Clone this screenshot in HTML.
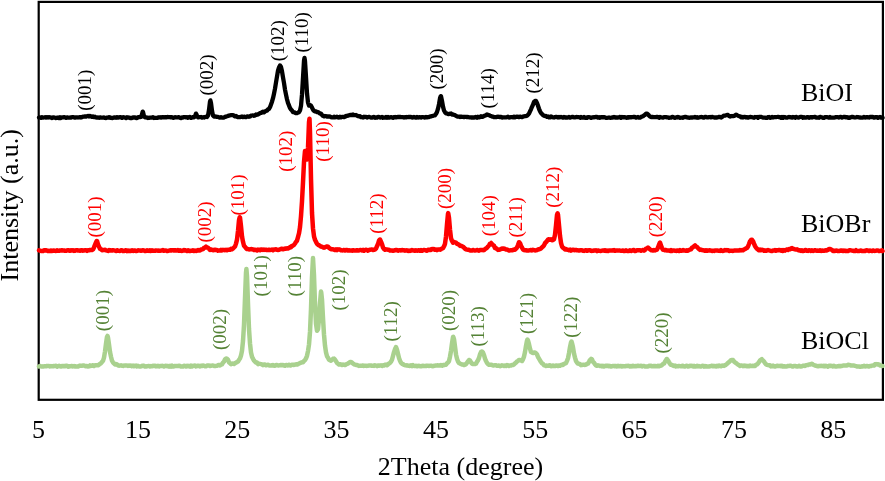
<!DOCTYPE html>
<html><head><meta charset="utf-8"><style>
html,body{margin:0;padding:0;background:#fff;}
svg{display:block;will-change:transform;font-family:"Liberation Serif",serif;}
</style></head><body>
<svg width="885" height="481" viewBox="0 0 885 481">
<rect x="0" y="0" width="885" height="481" fill="#fff"/>
<rect x="38.7" y="1.9" width="844.2" height="397.9" fill="none" stroke="#000" stroke-width="2.2"/>
<polyline points="39.0,366.5 40.0,366.0 41.0,366.3 42.0,366.6 43.0,366.6 44.0,366.3 45.0,366.2 46.0,366.3 47.0,365.9 48.0,365.9 49.0,365.9 50.0,366.4 51.0,366.1 52.0,366.3 53.0,366.1 54.0,366.2 55.0,365.9 56.0,365.8 57.0,366.7 58.0,366.1 59.0,365.8 60.0,366.3 61.0,366.5 62.0,365.9 63.0,366.3 64.0,366.0 65.0,366.2 66.0,365.7 67.0,365.7 68.0,366.7 69.0,366.5 70.0,366.2 71.0,366.2 72.0,365.9 73.0,366.4 74.0,366.1 75.0,366.6 76.0,366.4 77.0,366.4 78.0,366.6 79.0,365.9 80.0,365.6 81.0,365.8 82.0,365.7 83.0,365.6 84.0,365.6 85.0,366.1 86.0,366.3 87.0,365.9 88.0,366.4 89.0,366.3 90.0,365.4 91.0,365.9 92.0,365.6 93.0,365.2 94.0,366.0 95.0,365.2 96.0,365.3 97.0,365.2 98.0,365.3 99.0,364.6 100.0,363.9 101.0,363.3 102.0,361.9 103.0,360.8 104.0,357.6 105.0,351.5 106.0,343.8 107.0,336.9 107.5,335.9 108.0,337.6 109.0,344.6 110.0,352.1 111.0,356.7 112.0,360.7 113.0,362.4 114.0,363.5 115.0,364.5 116.0,364.0 117.0,364.4 118.0,365.3 119.0,365.7 120.0,365.6 121.0,365.3 122.0,365.7 123.0,365.9 124.0,365.4 125.0,365.6 126.0,365.6 127.0,365.5 128.0,365.9 129.0,365.6 130.0,365.7 131.0,365.6 132.0,366.2 133.0,365.5 134.0,366.3 135.0,365.8 136.0,365.6 137.0,366.5 138.0,365.8 139.0,366.5 140.0,366.5 141.0,366.5 142.0,365.8 143.0,366.1 144.0,365.7 145.0,366.6 146.0,366.5 147.0,366.3 148.0,366.1 149.0,366.0 150.0,366.5 151.0,366.1 152.0,366.3 153.0,365.8 154.0,365.9 155.0,365.7 156.0,366.4 157.0,366.2 158.0,365.8 159.0,366.5 160.0,365.9 161.0,366.1 162.0,365.8 163.0,365.9 164.0,366.5 165.0,366.0 166.0,365.8 167.0,366.2 168.0,366.0 169.0,366.6 170.0,365.8 171.0,366.6 172.0,365.7 173.0,366.6 174.0,366.3 175.0,365.9 176.0,366.1 177.0,365.9 178.0,365.9 179.0,365.8 180.0,366.0 181.0,366.6 182.0,366.6 183.0,366.6 184.0,365.7 185.0,365.9 186.0,366.5 187.0,365.7 188.0,366.3 189.0,365.9 190.0,366.6 191.0,365.6 192.0,366.4 193.0,365.9 194.0,365.7 195.0,365.6 196.0,366.4 197.0,366.1 198.0,365.7 199.0,366.0 200.0,366.4 201.0,365.7 202.0,366.1 203.0,365.6 204.0,365.7 205.0,366.2 206.0,366.2 207.0,365.6 208.0,365.5 209.0,365.5 210.0,366.0 211.0,365.8 212.0,365.6 213.0,365.5 214.0,365.9 215.0,365.9 216.0,365.9 217.0,365.7 218.0,365.2 219.0,364.9 220.0,365.4 221.0,364.7 222.0,364.4 223.0,362.6 224.0,361.7 225.0,359.3 226.0,358.6 226.2,358.6 227.0,358.7 228.0,359.8 229.0,362.4 230.0,363.1 231.0,364.1 232.0,363.7 233.0,363.6 234.0,364.0 235.0,363.2 236.0,362.6 237.0,362.2 238.0,361.5 239.0,359.8 240.0,358.5 241.0,355.6 242.0,350.8 243.0,341.1 244.0,324.8 245.0,298.4 246.0,272.7 246.4,268.9 247.0,276.2 248.0,303.9 249.0,329.0 250.0,343.4 251.0,352.4 252.0,356.8 253.0,358.9 254.0,360.6 255.0,361.7 256.0,362.6 257.0,362.6 258.0,364.1 259.0,363.7 260.0,363.9 261.0,364.1 262.0,364.4 263.0,365.1 264.0,364.5 265.0,364.6 266.0,365.3 267.0,364.9 268.0,364.8 269.0,365.4 270.0,365.4 271.0,365.4 272.0,365.6 273.0,365.0 274.0,365.8 275.0,365.7 276.0,365.0 277.0,365.1 278.0,365.4 279.0,365.4 280.0,365.2 281.0,365.0 282.0,365.3 283.0,365.0 284.0,365.5 285.0,365.7 286.0,364.9 287.0,365.3 288.0,365.4 289.0,364.8 290.0,365.4 291.0,365.4 292.0,364.8 293.0,364.7 294.0,365.0 295.0,364.6 296.0,364.3 297.0,364.6 298.0,364.2 299.0,363.5 300.0,363.1 301.0,362.7 302.0,362.3 303.0,362.2 304.0,361.1 305.0,360.0 306.0,358.3 307.0,355.8 308.0,351.1 309.0,344.5 310.0,331.9 311.0,309.2 312.0,277.1 313.0,258.1 314.0,275.5 315.0,304.2 316.0,323.6 317.0,330.8 318.0,329.3 319.0,319.2 320.0,302.9 321.0,291.6 321.2,292.3 322.0,299.5 323.0,318.2 324.0,334.5 325.0,345.7 326.0,352.4 327.0,356.2 328.0,357.7 329.0,359.7 330.0,360.2 331.0,360.7 332.0,359.7 333.0,358.8 334.0,358.6 335.0,359.6 336.0,361.2 337.0,362.9 338.0,363.7 339.0,364.6 340.0,364.2 341.0,364.4 342.0,364.9 343.0,364.4 344.0,364.9 345.0,365.1 346.0,364.5 347.0,363.8 348.0,363.5 349.0,362.9 350.0,362.1 351.0,362.1 352.0,362.6 353.0,363.5 354.0,364.3 355.0,364.6 356.0,364.9 357.0,365.0 358.0,365.5 359.0,365.9 360.0,365.7 361.0,365.7 362.0,365.8 363.0,365.4 364.0,365.9 365.0,365.7 366.0,365.8 367.0,365.9 368.0,365.7 369.0,365.6 370.0,365.5 371.0,365.5 372.0,365.8 373.0,365.7 374.0,365.9 375.0,365.3 376.0,365.6 377.0,366.1 378.0,365.4 379.0,365.7 380.0,365.6 381.0,365.3 382.0,366.0 383.0,365.2 384.0,365.6 385.0,364.8 386.0,364.6 387.0,365.2 388.0,364.4 389.0,363.5 390.0,363.0 391.0,361.7 392.0,359.8 393.0,356.0 394.0,352.1 395.0,349.1 395.8,347.6 396.0,347.1 397.0,349.8 398.0,353.9 399.0,358.0 400.0,360.7 401.0,362.7 402.0,363.8 403.0,364.2 404.0,364.9 405.0,365.2 406.0,365.4 407.0,365.3 408.0,365.7 409.0,365.7 410.0,366.0 411.0,365.3 412.0,366.1 413.0,365.2 414.0,366.0 415.0,365.9 416.0,365.8 417.0,366.3 418.0,365.9 419.0,365.8 420.0,366.2 421.0,366.3 422.0,366.0 423.0,365.8 424.0,365.9 425.0,365.9 426.0,366.1 427.0,365.7 428.0,365.8 429.0,365.9 430.0,365.8 431.0,365.7 432.0,366.1 433.0,366.2 434.0,365.8 435.0,365.7 436.0,365.4 437.0,365.5 438.0,365.3 439.0,365.6 440.0,365.6 441.0,365.0 442.0,365.7 443.0,364.9 444.0,365.2 445.0,364.9 446.0,364.7 447.0,363.3 448.0,362.5 449.0,361.1 450.0,356.7 451.0,350.8 452.0,343.3 453.0,337.0 453.3,336.9 454.0,339.1 455.0,346.6 456.0,354.4 457.0,358.8 458.0,361.5 459.0,363.1 460.0,363.6 461.0,364.0 462.0,364.5 463.0,364.4 464.0,365.1 465.0,364.7 466.0,364.1 467.0,362.7 468.0,361.3 469.0,360.0 469.3,360.1 470.0,360.5 471.0,362.4 472.0,363.8 473.0,364.0 474.0,364.1 475.0,364.0 476.0,363.7 477.0,361.8 478.0,360.2 479.0,358.0 480.0,354.4 481.0,352.0 481.9,351.7 482.0,351.5 483.0,352.6 484.0,355.0 485.0,358.7 486.0,361.0 487.0,362.8 488.0,364.1 489.0,364.7 490.0,364.7 491.0,364.7 492.0,365.0 493.0,365.4 494.0,365.4 495.0,365.2 496.0,365.3 497.0,365.8 498.0,365.8 499.0,365.5 500.0,366.2 501.0,365.8 502.0,365.3 503.0,365.6 504.0,366.0 505.0,365.5 506.0,365.9 507.0,365.1 508.0,365.4 509.0,365.9 510.0,365.5 511.0,365.5 512.0,364.9 513.0,364.9 514.0,364.4 515.0,363.4 516.0,362.7 517.0,361.4 518.0,360.9 518.6,360.2 519.0,360.0 520.0,360.0 521.0,360.4 522.0,361.0 523.0,359.3 524.0,356.6 525.0,352.0 526.0,345.9 527.0,340.7 527.4,339.6 528.0,340.5 529.0,344.2 530.0,348.7 531.0,352.1 532.0,352.6 533.0,353.0 534.0,352.4 535.0,352.4 536.0,353.2 537.0,354.4 538.0,357.0 539.0,358.6 540.0,360.3 541.0,362.0 542.0,363.3 543.0,363.9 544.0,365.3 545.0,365.4 546.0,366.0 547.0,365.6 548.0,365.8 549.0,365.5 550.0,365.3 551.0,366.2 552.0,366.1 553.0,365.5 554.0,366.1 555.0,366.0 556.0,365.4 557.0,365.7 558.0,366.0 559.0,365.4 560.0,365.7 561.0,364.9 562.0,364.8 563.0,364.9 564.0,364.0 565.0,363.5 566.0,363.1 567.0,360.9 568.0,358.3 569.0,353.2 570.0,347.2 571.0,342.5 571.5,341.5 572.0,343.1 573.0,347.3 574.0,353.5 575.0,357.6 576.0,361.0 577.0,362.6 578.0,363.6 579.0,363.8 580.0,364.2 581.0,365.2 582.0,364.9 583.0,364.8 584.0,364.8 585.0,364.9 586.0,364.6 587.0,363.9 588.0,363.6 589.0,361.8 590.0,359.9 591.0,359.4 591.2,358.8 592.0,359.5 593.0,361.8 594.0,362.7 595.0,364.3 596.0,365.4 597.0,365.8 598.0,365.3 599.0,365.6 600.0,366.1 601.0,365.8 602.0,366.4 603.0,365.7 604.0,366.5 605.0,366.0 606.0,365.8 607.0,366.0 608.0,365.7 609.0,366.3 610.0,365.9 611.0,366.5 612.0,366.2 613.0,366.0 614.0,365.9 615.0,366.3 616.0,365.9 617.0,366.5 618.0,365.8 619.0,366.2 620.0,366.2 621.0,365.9 622.0,366.5 623.0,366.1 624.0,366.3 625.0,366.3 626.0,366.0 627.0,366.1 628.0,365.8 629.0,365.9 630.0,366.5 631.0,366.0 632.0,366.4 633.0,365.8 634.0,366.3 635.0,366.1 636.0,366.2 637.0,366.0 638.0,365.8 639.0,366.0 640.0,365.9 641.0,365.8 642.0,366.4 643.0,366.0 644.0,366.1 645.0,366.6 646.0,366.5 647.0,366.6 648.0,366.5 649.0,365.8 650.0,365.9 651.0,365.7 652.0,366.3 653.0,366.3 654.0,366.0 655.0,366.0 656.0,366.2 657.0,366.2 658.0,365.7 659.0,366.3 660.0,365.7 661.0,365.7 662.0,364.9 663.0,364.1 664.0,363.6 665.0,361.7 666.0,360.1 666.7,359.0 667.0,359.1 668.0,360.5 669.0,362.2 670.0,363.8 671.0,364.8 672.0,365.0 673.0,365.6 674.0,366.0 675.0,365.6 676.0,366.4 677.0,366.1 678.0,366.3 679.0,365.9 680.0,366.1 681.0,366.3 682.0,366.0 683.0,365.7 684.0,366.5 685.0,366.5 686.0,366.0 687.0,365.7 688.0,366.5 689.0,366.3 690.0,365.7 691.0,365.9 692.0,365.8 693.0,366.5 694.0,365.9 695.0,366.6 696.0,366.5 697.0,365.8 698.0,366.4 699.0,366.1 700.0,366.4 701.0,366.5 702.0,366.0 703.0,365.8 704.0,366.6 705.0,366.1 706.0,366.6 707.0,366.4 708.0,366.4 709.0,366.5 710.0,366.3 711.0,366.1 712.0,365.7 713.0,366.3 714.0,366.0 715.0,366.1 716.0,366.5 717.0,365.7 718.0,366.3 719.0,365.5 720.0,366.1 721.0,366.2 722.0,365.6 723.0,365.7 724.0,365.9 725.0,365.3 726.0,364.7 727.0,363.8 728.0,362.8 729.0,362.1 730.0,361.2 731.0,360.2 732.0,360.0 733.0,360.1 734.0,361.5 735.0,362.4 736.0,362.9 737.0,363.8 738.0,364.7 739.0,365.1 740.0,365.9 741.0,365.5 742.0,365.5 743.0,366.2 744.0,365.5 745.0,366.0 746.0,365.8 747.0,366.3 748.0,366.0 749.0,366.2 750.0,365.6 751.0,366.1 752.0,366.0 753.0,365.8 754.0,366.0 755.0,365.9 756.0,364.8 757.0,364.4 758.0,363.6 759.0,362.1 760.0,360.5 761.0,359.6 761.7,359.2 762.0,359.8 763.0,360.4 764.0,361.5 765.0,363.1 766.0,364.3 767.0,364.9 768.0,365.1 769.0,365.3 770.0,365.3 771.0,366.4 772.0,366.2 773.0,365.6 774.0,366.3 775.0,366.6 776.0,366.2 777.0,365.7 778.0,366.1 779.0,366.1 780.0,365.8 781.0,366.2 782.0,365.7 783.0,366.6 784.0,366.3 785.0,366.3 786.0,366.6 787.0,366.3 788.0,365.9 789.0,365.9 790.0,365.8 791.0,365.7 792.0,366.5 793.0,366.5 794.0,366.0 795.0,365.9 796.0,366.3 797.0,366.5 798.0,366.6 799.0,365.8 800.0,366.4 801.0,366.4 802.0,366.3 803.0,365.8 804.0,365.6 805.0,366.0 806.0,365.3 807.0,365.1 808.0,365.0 809.0,364.4 810.0,364.6 811.0,363.9 812.0,363.8 813.0,364.6 814.0,365.0 815.0,365.5 816.0,365.7 817.0,366.1 818.0,366.3 819.0,366.0 820.0,366.1 821.0,365.8 822.0,365.9 823.0,366.2 824.0,365.7 825.0,366.4 826.0,365.8 827.0,366.1 828.0,366.7 829.0,365.8 830.0,365.7 831.0,366.1 832.0,365.9 833.0,366.4 834.0,365.7 835.0,366.5 836.0,366.5 837.0,366.5 838.0,366.1 839.0,365.9 840.0,366.3 841.0,366.0 842.0,365.9 843.0,365.6 844.0,365.6 845.0,365.6 846.0,365.6 847.0,365.5 848.0,364.7 849.0,364.9 850.0,365.2 851.0,365.5 852.0,365.5 853.0,365.5 854.0,365.5 855.0,365.9 856.0,366.1 857.0,366.6 858.0,366.6 859.0,366.5 860.0,366.7 861.0,366.7 862.0,366.3 863.0,366.5 864.0,365.8 865.0,366.4 866.0,366.3 867.0,366.0 868.0,366.2 869.0,366.6 870.0,366.1 871.0,366.1 872.0,365.6 873.0,365.4 874.0,365.6 875.0,364.3 876.0,364.1 877.0,364.4 878.0,364.3 879.0,364.4 880.0,365.4 881.0,365.5 882.0,365.9 882.5,365.9" fill="none" stroke="#a9d18e" stroke-width="4.5" stroke-linejoin="round" stroke-linecap="round"/>
<polyline points="39.0,250.3 40.0,250.6 41.0,251.0 42.0,251.0 43.0,251.1 44.0,250.2 45.0,250.5 46.0,250.3 47.0,250.4 48.0,251.1 49.0,250.8 50.0,251.1 51.0,250.5 52.0,251.0 53.0,250.6 54.0,250.4 55.0,250.9 56.0,251.1 57.0,250.3 58.0,250.8 59.0,250.8 60.0,250.4 61.0,250.5 62.0,250.3 63.0,250.4 64.0,250.4 65.0,250.8 66.0,250.8 67.0,250.4 68.0,250.2 69.0,250.5 70.0,250.8 71.0,250.3 72.0,250.4 73.0,250.3 74.0,250.9 75.0,250.7 76.0,250.2 77.0,250.2 78.0,250.5 79.0,250.6 80.0,250.7 81.0,250.2 82.0,250.2 83.0,250.7 84.0,250.4 85.0,250.3 86.0,250.3 87.0,250.9 88.0,250.2 89.0,250.3 90.0,250.0 91.0,249.9 92.0,250.0 93.0,249.4 94.0,247.4 95.0,244.8 96.0,242.4 96.7,240.9 97.0,240.9 98.0,244.3 99.0,246.6 100.0,248.8 101.0,249.3 102.0,250.2 103.0,250.0 104.0,249.9 105.0,249.8 106.0,250.4 107.0,250.6 108.0,250.9 109.0,250.1 110.0,250.6 111.0,250.4 112.0,250.6 113.0,250.2 114.0,250.4 115.0,250.6 116.0,251.0 117.0,250.2 118.0,250.6 119.0,250.9 120.0,251.1 121.0,250.3 122.0,250.2 123.0,251.1 124.0,251.1 125.0,250.6 126.0,250.2 127.0,251.1 128.0,250.5 129.0,251.0 130.0,250.8 131.0,251.0 132.0,250.3 133.0,250.9 134.0,250.4 135.0,250.5 136.0,251.0 137.0,251.0 138.0,250.3 139.0,250.4 140.0,250.5 141.0,250.7 142.0,250.5 143.0,250.3 144.0,250.4 145.0,250.9 146.0,251.0 147.0,250.2 148.0,250.7 149.0,250.9 150.0,250.2 151.0,251.0 152.0,250.3 153.0,250.7 154.0,250.7 155.0,250.8 156.0,250.4 157.0,250.6 158.0,250.7 159.0,250.6 160.0,250.8 161.0,250.6 162.0,250.6 163.0,250.1 164.0,250.7 165.0,250.6 166.0,250.4 167.0,250.9 168.0,250.9 169.0,250.6 170.0,250.3 171.0,250.6 172.0,250.2 173.0,250.2 174.0,250.5 175.0,250.2 176.0,250.5 177.0,250.6 178.0,250.1 179.0,250.7 180.0,250.2 181.0,250.8 182.0,250.9 183.0,250.6 184.0,250.1 185.0,250.6 186.0,250.4 187.0,251.0 188.0,250.2 189.0,250.9 190.0,251.0 191.0,250.8 192.0,250.8 193.0,250.2 194.0,251.0 195.0,250.5 196.0,250.9 197.0,250.8 198.0,250.0 199.0,250.6 200.0,250.6 201.0,249.5 202.0,249.4 203.0,249.1 204.0,247.7 205.0,247.7 206.0,246.7 207.0,247.6 208.0,247.7 209.0,248.8 210.0,249.9 211.0,249.5 212.0,249.8 213.0,250.2 214.0,250.0 215.0,249.8 216.0,250.0 217.0,249.9 218.0,250.7 219.0,250.4 220.0,250.6 221.0,249.9 222.0,250.5 223.0,249.8 224.0,250.1 225.0,250.2 226.0,249.8 227.0,250.3 228.0,249.8 229.0,249.7 230.0,249.8 231.0,248.8 232.0,249.3 233.0,248.5 234.0,247.4 235.0,246.6 236.0,243.6 237.0,239.6 238.0,231.0 239.0,220.3 239.7,217.3 240.0,217.6 241.0,226.3 242.0,236.5 243.0,241.8 244.0,245.7 245.0,246.8 246.0,248.1 247.0,249.1 248.0,249.1 249.0,249.4 250.0,249.3 251.0,249.1 252.0,249.2 253.0,249.4 254.0,250.0 255.0,249.8 256.0,250.0 257.0,250.4 258.0,249.6 259.0,249.8 260.0,250.2 261.0,249.6 262.0,249.5 263.0,249.9 264.0,249.6 265.0,249.9 266.0,249.7 267.0,250.1 268.0,250.1 269.0,249.7 270.0,250.1 271.0,249.9 272.0,249.5 273.0,250.3 274.0,249.5 275.0,249.4 276.0,249.3 277.0,249.8 278.0,249.9 279.0,249.8 280.0,249.3 281.0,249.0 282.0,248.7 283.0,249.2 284.0,249.0 285.0,248.6 286.0,248.7 287.0,248.3 288.0,248.5 289.0,248.0 290.0,247.1 291.0,247.3 292.0,245.9 293.0,245.7 294.0,244.8 295.0,243.5 296.0,241.9 297.0,240.7 298.0,237.1 299.0,233.3 300.0,227.1 301.0,216.1 302.0,201.4 303.0,182.3 304.0,162.0 305.0,151.0 306.0,154.8 307.0,159.5 308.0,147.9 309.0,122.0 309.5,118.7 310.0,132.3 311.0,178.7 312.0,213.0 313.0,228.5 314.0,236.3 315.0,239.8 316.0,241.9 317.0,243.8 318.0,244.7 319.0,245.3 320.0,245.9 321.0,246.6 322.0,246.8 323.0,247.3 324.0,247.7 325.0,247.3 326.0,246.8 327.0,246.4 328.0,246.6 329.0,247.9 330.0,248.5 331.0,249.3 332.0,249.3 333.0,249.2 334.0,249.7 335.0,250.1 336.0,249.4 337.0,250.1 338.0,249.3 339.0,249.6 340.0,249.6 341.0,250.2 342.0,250.4 343.0,250.3 344.0,249.9 345.0,250.5 346.0,249.9 347.0,249.9 348.0,250.6 349.0,250.3 350.0,250.4 351.0,250.4 352.0,250.7 353.0,250.2 354.0,250.6 355.0,250.5 356.0,250.6 357.0,250.2 358.0,250.5 359.0,250.4 360.0,250.1 361.0,250.0 362.0,250.4 363.0,249.9 364.0,250.7 365.0,249.9 366.0,249.8 367.0,249.9 368.0,250.7 369.0,250.0 370.0,249.8 371.0,249.6 372.0,249.5 373.0,250.0 374.0,249.8 375.0,249.4 376.0,248.6 377.0,246.2 378.0,244.0 379.0,240.5 379.9,239.5 380.0,239.5 381.0,241.7 382.0,244.1 383.0,247.5 384.0,249.0 385.0,249.8 386.0,249.3 387.0,249.6 388.0,249.7 389.0,249.7 390.0,250.6 391.0,250.6 392.0,250.5 393.0,250.7 394.0,250.5 395.0,250.2 396.0,250.0 397.0,250.0 398.0,250.7 399.0,250.2 400.0,250.3 401.0,250.4 402.0,250.0 403.0,250.2 404.0,250.3 405.0,250.7 406.0,250.4 407.0,250.3 408.0,251.0 409.0,250.5 410.0,250.9 411.0,250.6 412.0,250.0 413.0,250.4 414.0,250.4 415.0,250.8 416.0,250.3 417.0,250.7 418.0,250.5 419.0,250.2 420.0,250.8 421.0,250.1 422.0,250.8 423.0,250.1 424.0,249.9 425.0,250.1 426.0,250.6 427.0,250.8 428.0,249.7 429.0,250.0 430.0,249.8 431.0,249.9 432.0,249.0 433.0,249.2 434.0,249.1 435.0,249.8 436.0,249.4 437.0,250.1 438.0,249.5 439.0,249.4 440.0,249.7 441.0,249.2 442.0,248.4 443.0,248.3 444.0,246.3 445.0,243.8 446.0,236.5 447.0,224.5 448.0,213.8 448.2,213.1 449.0,217.9 450.0,229.7 451.0,238.2 452.0,240.9 453.0,242.7 454.0,242.0 455.0,242.3 456.0,242.6 457.0,243.8 458.0,244.1 459.0,244.7 460.0,245.9 461.0,245.7 462.0,246.2 463.0,246.7 464.0,247.7 465.0,248.7 466.0,249.3 467.0,249.6 468.0,249.8 469.0,249.8 470.0,250.6 471.0,250.5 472.0,250.6 473.0,250.0 474.0,250.3 475.0,250.6 476.0,250.4 477.0,249.9 478.0,250.3 479.0,250.7 480.0,250.0 481.0,249.9 482.0,249.9 483.0,250.2 484.0,250.1 485.0,249.1 486.0,248.5 487.0,247.7 488.0,246.6 489.0,245.4 490.0,243.7 491.0,243.2 491.2,243.0 492.0,244.1 493.0,245.0 494.0,245.8 495.0,248.0 496.0,248.1 497.0,249.0 498.0,249.9 499.0,249.7 500.0,249.5 501.0,249.0 502.0,248.5 503.0,248.8 504.0,248.5 505.0,248.9 506.0,249.4 507.0,249.4 508.0,249.9 509.0,250.4 510.0,250.4 511.0,250.2 512.0,250.3 513.0,250.0 514.0,249.5 515.0,249.7 516.0,248.7 517.0,247.5 518.0,245.0 519.0,242.2 519.3,242.2 520.0,243.2 521.0,245.7 522.0,247.7 523.0,249.4 524.0,250.1 525.0,250.2 526.0,250.3 527.0,250.5 528.0,250.4 529.0,250.4 530.0,250.2 531.0,250.0 532.0,250.4 533.0,249.8 534.0,250.1 535.0,250.4 536.0,250.3 537.0,250.1 538.0,249.5 539.0,249.3 540.0,248.9 541.0,248.4 542.0,247.4 543.0,246.5 544.0,245.4 545.0,243.2 546.0,242.2 547.0,241.0 548.0,239.6 549.0,239.2 550.0,239.7 551.0,239.2 552.0,240.2 553.0,240.0 554.0,239.2 555.0,234.7 556.0,225.5 557.0,215.0 557.6,213.3 558.0,214.7 559.0,225.3 560.0,235.9 561.0,242.9 562.0,246.5 563.0,247.7 564.0,248.4 565.0,249.4 566.0,249.0 567.0,249.8 568.0,249.7 569.0,250.2 570.0,249.6 571.0,250.6 572.0,250.0 573.0,249.8 574.0,250.0 575.0,250.2 576.0,249.9 577.0,250.3 578.0,250.3 579.0,250.6 580.0,250.3 581.0,250.2 582.0,250.2 583.0,250.7 584.0,250.9 585.0,250.5 586.0,250.2 587.0,250.8 588.0,250.4 589.0,250.3 590.0,250.2 591.0,250.8 592.0,250.9 593.0,250.7 594.0,250.5 595.0,250.6 596.0,250.3 597.0,251.1 598.0,250.4 599.0,250.7 600.0,250.9 601.0,250.9 602.0,250.6 603.0,250.4 604.0,250.7 605.0,250.2 606.0,250.9 607.0,250.5 608.0,251.0 609.0,250.4 610.0,250.5 611.0,250.4 612.0,250.6 613.0,250.3 614.0,250.1 615.0,250.8 616.0,250.4 617.0,250.4 618.0,250.4 619.0,250.6 620.0,250.6 621.0,250.8 622.0,250.8 623.0,250.5 624.0,251.1 625.0,251.0 626.0,250.2 627.0,251.0 628.0,251.0 629.0,250.9 630.0,250.3 631.0,251.0 632.0,250.7 633.0,250.1 634.0,250.1 635.0,251.1 636.0,250.8 637.0,250.3 638.0,250.2 639.0,250.2 640.0,250.3 641.0,250.8 642.0,250.3 643.0,250.0 644.0,250.6 645.0,250.0 646.0,248.6 647.0,248.4 648.0,247.6 649.0,248.4 650.0,249.3 651.0,250.2 652.0,250.4 653.0,250.6 654.0,250.0 655.0,250.4 656.0,250.0 657.0,249.6 658.0,247.5 659.0,244.7 659.8,242.8 660.0,242.6 661.0,245.4 662.0,248.1 663.0,249.7 664.0,249.7 665.0,250.3 666.0,250.0 667.0,250.5 668.0,250.5 669.0,250.6 670.0,250.9 671.0,250.1 672.0,250.9 673.0,250.5 674.0,250.6 675.0,250.7 676.0,250.9 677.0,250.4 678.0,250.5 679.0,251.0 680.0,250.1 681.0,250.7 682.0,250.7 683.0,250.0 684.0,250.6 685.0,250.6 686.0,250.8 687.0,250.2 688.0,250.7 689.0,250.0 690.0,249.6 691.0,249.4 692.0,247.7 693.0,247.3 694.0,246.2 695.0,245.4 696.0,246.4 697.0,246.9 698.0,248.1 699.0,249.0 700.0,249.9 701.0,249.7 702.0,250.1 703.0,250.2 704.0,250.4 705.0,250.8 706.0,250.3 707.0,250.8 708.0,250.4 709.0,250.5 710.0,250.3 711.0,250.6 712.0,251.0 713.0,250.7 714.0,250.9 715.0,250.4 716.0,250.4 717.0,250.4 718.0,250.7 719.0,250.7 720.0,250.9 721.0,250.1 722.0,250.8 723.0,251.0 724.0,250.6 725.0,250.1 726.0,250.4 727.0,250.1 728.0,250.3 729.0,251.0 730.0,250.7 731.0,250.7 732.0,250.8 733.0,250.9 734.0,250.6 735.0,250.6 736.0,250.6 737.0,250.6 738.0,250.5 739.0,250.5 740.0,250.0 741.0,250.4 742.0,250.1 743.0,250.3 744.0,249.4 745.0,249.1 746.0,248.4 747.0,248.0 748.0,246.5 749.0,244.0 750.0,241.3 751.0,240.0 751.5,239.7 752.0,239.7 753.0,241.2 754.0,243.7 755.0,246.0 756.0,247.6 757.0,248.8 758.0,249.6 759.0,250.3 760.0,249.6 761.0,250.2 762.0,249.8 763.0,249.9 764.0,250.7 765.0,250.5 766.0,250.8 767.0,250.4 768.0,250.0 769.0,250.4 770.0,250.6 771.0,251.0 772.0,251.0 773.0,250.5 774.0,250.5 775.0,250.1 776.0,250.7 777.0,250.3 778.0,250.2 779.0,250.0 780.0,250.0 781.0,250.7 782.0,250.1 783.0,250.9 784.0,250.0 785.0,250.7 786.0,249.8 787.0,249.5 788.0,249.9 789.0,249.1 790.0,249.3 791.0,248.4 792.0,248.1 793.0,248.8 794.0,248.9 795.0,249.4 796.0,249.6 797.0,249.3 798.0,250.1 799.0,250.4 800.0,250.3 801.0,250.9 802.0,250.2 803.0,251.0 804.0,250.8 805.0,250.1 806.0,250.1 807.0,250.7 808.0,250.9 809.0,250.2 810.0,250.4 811.0,250.9 812.0,250.3 813.0,251.0 814.0,250.6 815.0,250.2 816.0,250.5 817.0,250.7 818.0,250.6 819.0,250.8 820.0,250.3 821.0,250.9 822.0,250.5 823.0,250.7 824.0,250.7 825.0,250.5 826.0,250.3 827.0,250.4 828.0,249.8 829.0,248.9 830.0,248.9 831.0,249.5 832.0,249.9 833.0,251.0 834.0,250.8 835.0,250.9 836.0,250.5 837.0,250.7 838.0,251.1 839.0,251.0 840.0,250.8 841.0,250.5 842.0,250.6 843.0,251.1 844.0,250.5 845.0,250.9 846.0,250.8 847.0,251.1 848.0,251.0 849.0,250.5 850.0,250.2 851.0,250.4 852.0,250.6 853.0,250.8 854.0,251.0 855.0,251.1 856.0,250.2 857.0,251.0 858.0,251.0 859.0,251.0 860.0,250.8 861.0,250.5 862.0,251.0 863.0,251.0 864.0,250.9 865.0,251.1 866.0,250.5 867.0,250.3 868.0,250.7 869.0,251.0 870.0,250.4 871.0,250.9 872.0,251.1 873.0,250.4 874.0,250.8 875.0,250.9 876.0,250.7 877.0,250.4 878.0,250.4 879.0,250.9 880.0,251.0 881.0,250.6 882.0,250.3 882.5,251.0" fill="none" stroke="#ff0000" stroke-width="4.5" stroke-linejoin="round" stroke-linecap="round"/>
<polyline points="39.0,117.5 40.0,117.3 41.0,117.8 42.0,117.2 43.0,117.7 44.0,117.5 45.0,117.2 46.0,117.7 47.0,117.2 48.0,117.6 49.0,117.2 50.0,117.3 51.0,117.6 52.0,118.0 53.0,117.3 54.0,117.4 55.0,117.8 56.0,118.1 57.0,117.7 58.0,117.5 59.0,118.1 60.0,117.2 61.0,118.0 62.0,117.4 63.0,117.3 64.0,117.2 65.0,117.4 66.0,117.9 67.0,117.3 68.0,117.7 69.0,117.7 70.0,117.5 71.0,117.6 72.0,117.1 73.0,117.1 74.0,117.3 75.0,117.7 76.0,117.4 77.0,117.3 78.0,117.5 79.0,117.3 80.0,117.1 81.0,117.5 82.0,117.2 83.0,116.6 84.0,116.7 85.0,116.4 86.0,116.6 87.0,116.3 88.0,115.8 89.0,116.5 90.0,115.8 91.0,116.3 92.0,116.9 93.0,116.5 94.0,117.0 95.0,116.7 96.0,117.4 97.0,117.6 98.0,117.5 99.0,117.8 100.0,117.3 101.0,117.7 102.0,117.6 103.0,117.6 104.0,117.5 105.0,117.9 106.0,118.0 107.0,117.6 108.0,117.7 109.0,117.1 110.0,117.8 111.0,117.7 112.0,118.1 113.0,117.9 114.0,117.4 115.0,117.5 116.0,117.8 117.0,117.1 118.0,117.6 119.0,117.3 120.0,117.2 121.0,117.2 122.0,117.9 123.0,117.2 124.0,117.3 125.0,117.5 126.0,118.0 127.0,117.2 128.0,117.5 129.0,117.6 130.0,118.0 131.0,117.9 132.0,118.0 133.0,117.4 134.0,117.5 135.0,117.4 136.0,118.0 137.0,118.0 138.0,117.2 139.0,117.2 140.0,117.2 141.0,117.0 142.0,114.3 142.7,111.6 143.0,111.9 144.0,116.2 145.0,117.4 146.0,117.4 147.0,117.6 148.0,118.0 149.0,117.8 150.0,117.6 151.0,117.7 152.0,117.7 153.0,117.1 154.0,118.0 155.0,117.8 156.0,117.9 157.0,117.9 158.0,117.5 159.0,117.5 160.0,117.2 161.0,117.7 162.0,117.1 163.0,117.1 164.0,117.3 165.0,117.2 166.0,117.4 167.0,117.1 168.0,117.0 169.0,117.2 170.0,117.1 171.0,117.4 172.0,117.1 173.0,117.9 174.0,117.6 175.0,117.2 176.0,117.3 177.0,117.4 178.0,117.4 179.0,117.1 180.0,117.9 181.0,118.0 182.0,117.5 183.0,117.5 184.0,117.1 185.0,117.1 186.0,117.3 187.0,117.2 188.0,117.8 189.0,117.1 190.0,117.0 191.0,117.9 192.0,117.5 193.0,117.1 194.0,117.4 195.0,116.2 196.0,113.6 196.2,113.9 197.0,115.9 198.0,117.4 199.0,117.1 200.0,117.2 201.0,117.0 202.0,117.6 203.0,117.3 204.0,117.5 205.0,117.0 206.0,116.7 207.0,117.0 208.0,115.6 209.0,109.9 210.0,101.6 210.4,100.4 211.0,102.9 212.0,110.8 213.0,115.6 214.0,116.6 215.0,116.5 216.0,116.6 217.0,116.9 218.0,116.9 219.0,117.4 220.0,117.6 221.0,117.1 222.0,117.6 223.0,117.6 224.0,117.5 225.0,116.9 226.0,116.6 227.0,116.3 228.0,116.0 229.0,115.5 230.0,115.3 231.0,115.2 232.0,115.1 233.0,115.1 234.0,115.7 235.0,116.4 236.0,116.0 237.0,116.8 238.0,117.2 239.0,117.1 240.0,117.1 241.0,116.8 242.0,116.5 243.0,117.1 244.0,116.6 245.0,117.0 246.0,117.1 247.0,116.5 248.0,116.4 249.0,116.8 250.0,116.5 251.0,115.7 252.0,115.5 253.0,115.3 254.0,115.8 255.0,115.4 256.0,114.4 257.0,114.8 258.0,114.5 259.0,113.8 260.0,113.2 261.0,113.0 262.0,112.2 263.0,111.7 264.0,112.3 265.0,111.5 266.0,110.9 267.0,110.7 268.0,109.4 269.0,108.8 270.0,107.2 271.0,104.5 272.0,101.7 273.0,98.2 274.0,93.7 275.0,88.7 276.0,82.5 277.0,76.5 278.0,70.6 279.0,67.4 280.0,65.4 281.0,67.0 282.0,71.3 283.0,77.3 284.0,83.0 285.0,89.6 286.0,94.6 287.0,99.2 288.0,103.0 289.0,105.4 290.0,108.1 291.0,109.5 292.0,110.5 293.0,112.2 294.0,112.1 295.0,112.8 296.0,113.2 297.0,113.1 298.0,112.6 299.0,112.2 300.0,110.5 301.0,105.9 302.0,94.5 303.0,77.6 304.0,60.7 304.5,57.9 305.0,61.1 306.0,76.9 307.0,93.3 308.0,102.6 309.0,105.5 310.0,105.0 310.5,105.3 311.0,105.7 312.0,107.6 313.0,109.7 314.0,110.8 315.0,111.4 316.0,111.5 317.0,112.0 318.0,112.1 319.0,112.8 320.0,113.6 321.0,113.7 322.0,114.9 323.0,115.9 324.0,116.4 325.0,116.0 326.0,116.2 327.0,116.7 328.0,116.4 329.0,116.6 330.0,116.5 331.0,117.1 332.0,117.3 333.0,117.4 334.0,116.7 335.0,117.3 336.0,117.2 337.0,116.7 338.0,117.4 339.0,117.5 340.0,116.7 341.0,117.4 342.0,116.8 343.0,116.8 344.0,117.1 345.0,116.8 346.0,115.9 347.0,115.9 348.0,115.7 349.0,115.3 350.0,115.0 351.0,114.9 352.0,115.2 353.0,114.5 354.0,115.2 355.0,115.2 356.0,115.0 357.0,115.6 358.0,116.2 359.0,116.3 360.0,116.1 361.0,117.2 362.0,117.2 363.0,117.5 364.0,116.7 365.0,117.0 366.0,116.8 367.0,117.5 368.0,117.1 369.0,116.9 370.0,117.2 371.0,117.7 372.0,117.7 373.0,117.1 374.0,117.0 375.0,117.8 376.0,117.4 377.0,117.6 378.0,117.0 379.0,116.9 380.0,117.6 381.0,117.3 382.0,116.9 383.0,117.8 384.0,117.5 385.0,117.7 386.0,117.0 387.0,117.7 388.0,117.0 389.0,117.7 390.0,117.3 391.0,117.2 392.0,117.4 393.0,117.8 394.0,117.2 395.0,117.0 396.0,117.4 397.0,117.1 398.0,117.0 399.0,117.0 400.0,116.9 401.0,117.1 402.0,117.2 403.0,117.2 404.0,117.6 405.0,117.2 406.0,117.4 407.0,117.0 408.0,117.2 409.0,116.9 410.0,117.1 411.0,116.9 412.0,117.6 413.0,117.4 414.0,117.0 415.0,117.3 416.0,117.7 417.0,116.9 418.0,117.6 419.0,117.2 420.0,117.2 421.0,117.6 422.0,117.1 423.0,117.2 424.0,117.3 425.0,117.6 426.0,116.9 427.0,117.3 428.0,117.1 429.0,117.0 430.0,116.6 431.0,116.4 432.0,116.0 433.0,115.8 434.0,115.3 435.0,115.4 436.0,113.9 437.0,112.0 438.0,108.7 439.0,104.2 440.0,98.3 440.7,96.2 441.0,96.1 442.0,100.9 443.0,106.6 444.0,110.5 445.0,112.2 446.0,113.3 447.0,113.4 448.0,114.1 449.0,114.1 450.0,113.7 451.0,113.5 452.0,114.6 453.0,114.4 454.0,114.9 455.0,115.1 456.0,115.9 457.0,116.4 458.0,116.7 459.0,116.6 460.0,117.0 461.0,116.6 462.0,116.9 463.0,116.8 464.0,117.1 465.0,116.8 466.0,116.8 467.0,117.1 468.0,117.0 469.0,117.3 470.0,117.3 471.0,117.5 472.0,117.4 473.0,117.5 474.0,117.6 475.0,117.1 476.0,117.0 477.0,117.7 478.0,116.8 479.0,117.3 480.0,117.1 481.0,116.3 482.0,116.9 483.0,116.6 484.0,116.0 485.0,115.6 486.0,115.3 487.0,114.4 488.0,114.8 489.0,115.0 490.0,115.7 491.0,116.1 492.0,116.5 493.0,116.6 494.0,117.2 495.0,117.1 496.0,117.2 497.0,116.8 498.0,116.7 499.0,116.8 500.0,117.1 501.0,116.8 502.0,117.6 503.0,117.3 504.0,117.4 505.0,117.4 506.0,117.4 507.0,117.2 508.0,116.7 509.0,117.5 510.0,117.4 511.0,117.2 512.0,117.2 513.0,117.3 514.0,116.7 515.0,117.3 516.0,116.8 517.0,116.6 518.0,116.8 519.0,117.2 520.0,116.6 521.0,117.0 522.0,117.2 523.0,116.6 524.0,116.3 525.0,116.2 526.0,116.1 527.0,115.7 528.0,114.7 529.0,113.6 530.0,111.4 531.0,109.3 532.0,106.8 533.0,104.6 534.0,101.9 535.0,101.0 536.0,101.0 537.0,102.9 538.0,105.8 539.0,108.8 540.0,111.2 541.0,113.0 542.0,114.0 543.0,115.1 544.0,115.7 545.0,116.1 546.0,116.0 547.0,116.9 548.0,116.4 549.0,117.3 550.0,117.3 551.0,116.4 552.0,116.9 553.0,117.3 554.0,117.5 555.0,117.1 556.0,116.9 557.0,116.9 558.0,117.6 559.0,116.9 560.0,117.3 561.0,116.9 562.0,117.3 563.0,117.7 564.0,116.9 565.0,117.6 566.0,117.3 567.0,117.7 568.0,117.5 569.0,117.0 570.0,117.7 571.0,117.3 572.0,116.9 573.0,116.8 574.0,117.3 575.0,117.3 576.0,117.1 577.0,117.0 578.0,117.2 579.0,117.2 580.0,117.7 581.0,116.9 582.0,117.6 583.0,117.7 584.0,117.0 585.0,117.8 586.0,117.6 587.0,117.8 588.0,117.2 589.0,117.2 590.0,117.3 591.0,117.9 592.0,117.5 593.0,117.2 594.0,117.3 595.0,117.2 596.0,116.9 597.0,117.0 598.0,117.7 599.0,117.2 600.0,117.8 601.0,117.1 602.0,117.1 603.0,117.4 604.0,117.1 605.0,117.3 606.0,117.8 607.0,117.8 608.0,117.7 609.0,117.5 610.0,117.8 611.0,117.8 612.0,117.4 613.0,117.6 614.0,116.9 615.0,117.6 616.0,117.3 617.0,117.6 618.0,117.5 619.0,117.2 620.0,116.9 621.0,117.8 622.0,117.0 623.0,117.3 624.0,117.2 625.0,117.2 626.0,117.6 627.0,117.8 628.0,117.1 629.0,117.5 630.0,117.2 631.0,117.4 632.0,117.2 633.0,117.0 634.0,117.0 635.0,117.0 636.0,117.7 637.0,117.3 638.0,117.0 639.0,117.6 640.0,117.7 641.0,117.0 642.0,116.5 643.0,116.2 644.0,115.4 645.0,114.8 646.0,113.7 647.0,113.7 648.0,114.3 649.0,115.5 650.0,116.6 651.0,117.0 652.0,116.9 653.0,117.0 654.0,117.2 655.0,117.1 656.0,117.1 657.0,116.8 658.0,117.1 659.0,117.8 660.0,116.9 661.0,117.3 662.0,117.5 663.0,117.7 664.0,117.1 665.0,117.1 666.0,117.1 667.0,117.3 668.0,117.3 669.0,117.8 670.0,117.7 671.0,117.7 672.0,116.9 673.0,116.9 674.0,117.6 675.0,117.8 676.0,117.3 677.0,117.5 678.0,116.9 679.0,117.3 680.0,117.8 681.0,117.7 682.0,117.7 683.0,117.8 684.0,117.1 685.0,117.0 686.0,117.0 687.0,117.4 688.0,117.5 689.0,117.8 690.0,117.6 691.0,117.5 692.0,117.6 693.0,117.3 694.0,117.4 695.0,116.9 696.0,117.6 697.0,117.1 698.0,117.8 699.0,117.5 700.0,117.2 701.0,117.0 702.0,117.1 703.0,117.5 704.0,117.5 705.0,117.0 706.0,116.9 707.0,117.4 708.0,117.4 709.0,117.2 710.0,117.0 711.0,117.4 712.0,116.8 713.0,117.1 714.0,117.3 715.0,117.7 716.0,117.4 717.0,117.6 718.0,117.2 719.0,116.9 720.0,116.9 721.0,117.5 722.0,117.0 723.0,116.3 724.0,115.6 725.0,115.6 726.0,115.3 727.0,114.9 728.0,115.0 729.0,115.9 730.0,116.6 731.0,116.2 732.0,116.0 733.0,116.2 734.0,115.9 735.0,115.5 736.0,114.6 737.0,115.2 738.0,115.7 739.0,116.1 740.0,116.3 741.0,117.4 742.0,116.9 743.0,117.5 744.0,116.9 745.0,116.9 746.0,117.5 747.0,117.1 748.0,117.7 749.0,117.3 750.0,117.0 751.0,117.0 752.0,117.2 753.0,117.5 754.0,117.8 755.0,117.0 756.0,117.2 757.0,117.0 758.0,117.8 759.0,117.0 760.0,116.9 761.0,116.9 762.0,117.2 763.0,117.7 764.0,117.7 765.0,117.6 766.0,117.8 767.0,117.8 768.0,117.2 769.0,117.0 770.0,117.8 771.0,117.6 772.0,116.9 773.0,117.5 774.0,117.2 775.0,117.2 776.0,117.2 777.0,117.0 778.0,116.8 779.0,117.1 780.0,117.2 781.0,117.8 782.0,117.0 783.0,117.8 784.0,117.0 785.0,117.2 786.0,117.7 787.0,117.7 788.0,117.3 789.0,116.9 790.0,117.3 791.0,117.2 792.0,117.7 793.0,117.0 794.0,117.2 795.0,117.7 796.0,116.9 797.0,117.2 798.0,117.6 799.0,117.6 800.0,116.9 801.0,116.9 802.0,116.9 803.0,117.7 804.0,117.1 805.0,117.6 806.0,117.7 807.0,117.2 808.0,117.1 809.0,117.8 810.0,117.4 811.0,117.1 812.0,117.5 813.0,117.1 814.0,117.1 815.0,116.8 816.0,117.6 817.0,117.7 818.0,117.5 819.0,117.8 820.0,116.8 821.0,117.1 822.0,117.3 823.0,117.8 824.0,117.8 825.0,117.2 826.0,117.1 827.0,117.2 828.0,117.3 829.0,117.7 830.0,117.0 831.0,117.6 832.0,117.6 833.0,117.6 834.0,117.6 835.0,117.4 836.0,117.1 837.0,117.1 838.0,117.2 839.0,117.6 840.0,116.9 841.0,117.0 842.0,117.6 843.0,117.1 844.0,116.9 845.0,116.8 846.0,117.4 847.0,117.1 848.0,117.8 849.0,117.7 850.0,117.8 851.0,117.1 852.0,116.9 853.0,116.9 854.0,117.3 855.0,117.5 856.0,117.3 857.0,117.0 858.0,117.2 859.0,117.4 860.0,117.5 861.0,117.6 862.0,117.6 863.0,117.5 864.0,116.9 865.0,117.6 866.0,117.1 867.0,117.4 868.0,117.2 869.0,117.5 870.0,117.0 871.0,117.0 872.0,117.0 873.0,117.0 874.0,117.7 875.0,117.4 876.0,117.1 877.0,117.2 878.0,117.8 879.0,117.3 880.0,117.0 881.0,117.6 882.0,117.4 882.5,117.8" fill="none" stroke="#000" stroke-width="4.3" stroke-linejoin="round" stroke-linecap="round"/>
<text x="91.5" y="110.8" transform="rotate(-90 91.5 110.8)" fill="#000" font-size="19">(001)</text><text x="212.8" y="95.5" transform="rotate(-90 212.8 95.5)" fill="#000" font-size="19">(002)</text><text x="284.2" y="61.3" transform="rotate(-90 284.2 61.3)" fill="#000" font-size="19">(102)</text><text x="308.4" y="52.5" transform="rotate(-90 308.4 52.5)" fill="#000" font-size="19">(110)</text><text x="443.4" y="89.5" transform="rotate(-90 443.4 89.5)" fill="#000" font-size="19">(200)</text><text x="493.5" y="108.5" transform="rotate(-90 493.5 108.5)" fill="#000" font-size="19">(114)</text><text x="538.5" y="93.5" transform="rotate(-90 538.5 93.5)" fill="#000" font-size="19">(212)</text><text x="101.2" y="237.5" transform="rotate(-90 101.2 237.5)" fill="#ff0000" font-size="19">(001)</text><text x="210.6" y="242.5" transform="rotate(-90 210.6 242.5)" fill="#ff0000" font-size="19">(002)</text><text x="244.3" y="215.5" transform="rotate(-90 244.3 215.5)" fill="#ff0000" font-size="19">(101)</text><text x="291.9" y="171.7" transform="rotate(-90 291.9 171.7)" fill="#ff0000" font-size="19">(102)</text><text x="329.4" y="161.7" transform="rotate(-90 329.4 161.7)" fill="#ff0000" font-size="19">(110)</text><text x="383.2" y="233.8" transform="rotate(-90 383.2 233.8)" fill="#ff0000" font-size="19">(112)</text><text x="450.5" y="209.0" transform="rotate(-90 450.5 209.0)" fill="#ff0000" font-size="19">(200)</text><text x="495.5" y="236.3" transform="rotate(-90 495.5 236.3)" fill="#ff0000" font-size="19">(104)</text><text x="522.2" y="237.5" transform="rotate(-90 522.2 237.5)" fill="#ff0000" font-size="19">(211)</text><text x="558.9" y="207.7" transform="rotate(-90 558.9 207.7)" fill="#ff0000" font-size="19">(212)</text><text x="662.2" y="237.2" transform="rotate(-90 662.2 237.2)" fill="#ff0000" font-size="19">(220)</text><text x="109.5" y="331.2" transform="rotate(-90 109.5 331.2)" fill="#548235" font-size="19">(001)</text><text x="225.8" y="350.1" transform="rotate(-90 225.8 350.1)" fill="#548235" font-size="19">(002)</text><text x="266.9" y="296.4" transform="rotate(-90 266.9 296.4)" fill="#548235" font-size="19">(101)</text><text x="300.9" y="296.4" transform="rotate(-90 300.9 296.4)" fill="#548235" font-size="19">(110)</text><text x="345.2" y="310.6" transform="rotate(-90 345.2 310.6)" fill="#548235" font-size="19">(102)</text><text x="397.4" y="341.6" transform="rotate(-90 397.4 341.6)" fill="#548235" font-size="19">(112)</text><text x="454.6" y="331.0" transform="rotate(-90 454.6 331.0)" fill="#548235" font-size="19">(020)</text><text x="484.4" y="346.6" transform="rotate(-90 484.4 346.6)" fill="#548235" font-size="19">(113)</text><text x="533.2" y="334.0" transform="rotate(-90 533.2 334.0)" fill="#548235" font-size="19">(121)</text><text x="577.0" y="337.8" transform="rotate(-90 577.0 337.8)" fill="#548235" font-size="19">(122)</text><text x="668.5" y="353.6" transform="rotate(-90 668.5 353.6)" fill="#548235" font-size="19">(220)</text>
<text x="801" y="101" font-size="26">BiOI</text>
<text x="801" y="232" font-size="26">BiOBr</text>
<text x="801" y="348.5" font-size="26">BiOCl</text>
<text x="38.6" y="438" text-anchor="middle" font-size="26">5</text><text x="137.9" y="438" text-anchor="middle" font-size="26">15</text><text x="237.3" y="438" text-anchor="middle" font-size="26">25</text><text x="336.6" y="438" text-anchor="middle" font-size="26">35</text><text x="435.9" y="438" text-anchor="middle" font-size="26">45</text><text x="535.2" y="438" text-anchor="middle" font-size="26">55</text><text x="634.6" y="438" text-anchor="middle" font-size="26">65</text><text x="733.9" y="438" text-anchor="middle" font-size="26">75</text><text x="833.2" y="438" text-anchor="middle" font-size="26">85</text>
<text x="460.5" y="475" text-anchor="middle" font-size="26">2Theta (degree)</text>
<text x="18.3" y="281.5" transform="rotate(-90 18.3 281.5)" font-size="26">Intensity (a.u.)</text>
</svg>
</body></html>
